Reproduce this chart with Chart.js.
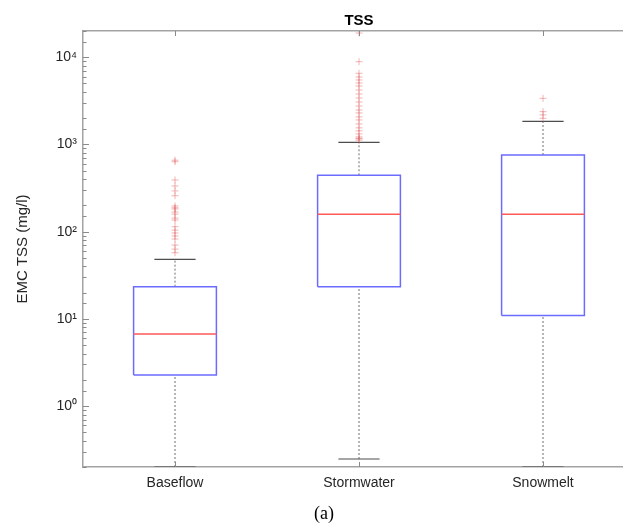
<!DOCTYPE html>
<html>
<head>
<meta charset="utf-8">
<script src="https://cdn.jsdelivr.net/npm/chart.js@4/dist/chart.umd.min.js"></script>
<style>
  html, body { margin: 0; padding: 0; background: #fff; overflow: hidden; }
  #wrap { position: relative; width: 645px; height: 527px; }
  #caption { position: absolute; left: 0; width: 648px; top: 503px; text-align: center;
             font-family: 'Liberation Serif', serif; font-size: 18px; color: #000; }
</style>
</head>
<body>
<div id="wrap">
  <canvas id="chart" width="645" height="527"></canvas>
  <div id="caption">(a)</div>
</div>
<script>
const CATEGORIES = ['Baseflow', 'Stormwater', 'Snowmelt'];
const Q1 = [2.27, 23.4, 10.9];
const MEDIAN = [6.7, 158, 158];
const Q3 = [23.4, 443, 757];
const WHISKER_LOW = [0.2, 0.247, 0.2];
const WHISKER_HIGH = [48.2, 1059, 1843];
const OUTLIERS_BASEFLOW = [660, 634, 391, 334, 293, 258, 197, 188, 182, 168, 159, 143, 136, 114, 104, 96.6, 89.2, 82.3, 70.2, 63.1, 57.3];
const OUTLIERS_STORMWATER = [18970, 8890, 6550, 5940, 5490, 5070, 4680, 4210, 3790, 3410, 3070, 2760, 2480, 2300, 2070, 1910, 1720, 1550, 1430, 1320, 1220, 1180, 1160, 1120];
const OUTLIERS_SNOWMELT = [3380, 2380, 2180, 1995];
const Y_TICKS = [1, 10, 100, 1000, 10000];

const BOX_HALF = 0.225;
const CAP_HALF = 0.112;
const GAP = { x: null, y: null };

// build segment lists for the line datasets, separated by gaps
function segments(fn) {
    const pts = [];
    CATEGORIES.forEach((c, i) => { pts.push(...fn(i + 1, i), GAP); });
    return pts;
}

const boxPts = segments((x, i) => [
    { x: x - BOX_HALF, y: Q1[i] }, { x: x + BOX_HALF, y: Q1[i] },
    { x: x + BOX_HALF, y: Q3[i] }, { x: x - BOX_HALF, y: Q3[i] },
    { x: x - BOX_HALF, y: Q1[i] }
]);
const medianPts = segments((x, i) => [{ x: x - BOX_HALF, y: MEDIAN[i] }, { x: x + BOX_HALF, y: MEDIAN[i] }]);
const upperWhisker = segments((x, i) => [{ x: x, y: Q3[i] }, { x: x, y: WHISKER_HIGH[i] }]);
const lowerWhisker = segments((x, i) => [{ x: x, y: WHISKER_LOW[i] }, { x: x, y: Q1[i] }]);
const caps = segments((x, i) => [
    { x: x - CAP_HALF, y: WHISKER_HIGH[i] }, { x: x + CAP_HALF, y: WHISKER_HIGH[i] }, GAP,
    { x: x - CAP_HALF, y: WHISKER_LOW[i] }, { x: x + CAP_HALF, y: WHISKER_LOW[i] }
]);
const outlierPts = [OUTLIERS_BASEFLOW, OUTLIERS_STORMWATER, OUTLIERS_SNOWMELT]
    .flatMap((arr, i) => arr.map(v => ({ x: i + 1, y: v })));

const SUP = { '0': '\u2070', '1': '\u00B9', '2': '\u00B2', '3': '\u00B3', '4': '\u2074', '-': '\u207B' };

const FRAME = '#a3a3a3';
const TEXT = '#262626';
const FONT = "'Liberation Sans', Arial, sans-serif";

// inward tick marks like matlab axes
const inwardTicks = {
    id: 'inwardTicks',
    afterDatasetsDraw(chart) {
        const { ctx, chartArea: a, scales: { x, y } } = chart;
        ctx.save();
        ctx.strokeStyle = '#8a8a8a';
        ctx.lineWidth = 1;
        ctx.beginPath();
        y.ticks.forEach(t => {
            const py = Math.round(y.getPixelForValue(t.value)) + 0.5;
            const major = Y_TICKS.includes(t.value);
            ctx.moveTo(a.left, py);
            ctx.lineTo(a.left + (major ? 6 : 3.5), py);
        });
        x.ticks.forEach(t => {
            const px = Math.round(x.getPixelForValue(t.value)) + 0.5;
            ctx.moveTo(px, a.top);
            ctx.lineTo(px, a.top + 5);
            ctx.moveTo(px, a.bottom);
            ctx.lineTo(px, a.bottom - 5);
        });
        ctx.stroke();
        ctx.restore();
    }
};

new Chart(document.getElementById('chart'), {
    type: 'line',
    data: {
        datasets: [
            {
                type: 'scatter',
                data: outlierPts,
                pointStyle: 'cross',
                pointRadius: 3.5,
                borderWidth: 1,
                borderColor: 'rgba(225, 90, 90, 0.45)',
                backgroundColor: 'rgba(225, 90, 90, 0.45)'
            },
            { data: caps, borderColor: '#4d4d4d', borderWidth: 1.2, pointRadius: 0 },
            { data: medianPts, borderColor: '#ff5a5a', borderWidth: 1.5, pointRadius: 0 },
            { data: boxPts, borderColor: '#6b6bff', borderWidth: 1.5, pointRadius: 0 },
            { data: upperWhisker, borderColor: '#6e6e6e', borderWidth: 1, borderDash: [2, 2], pointRadius: 0 },
            { data: lowerWhisker, borderColor: '#6e6e6e', borderWidth: 1, borderDash: [2, 2], pointRadius: 0 }
        ]
    },
    options: {
        responsive: false,
        animation: false,
        events: [],
        spanGaps: false,
        layout: { padding: { left: 0, right: 10, top: 0, bottom: 0 } },
        plugins: {
            legend: { display: false },
            tooltip: { enabled: false },
            title: {
                display: true,
                text: 'TSS',
                fullSize: false,
                color: '#000',
                font: { family: FONT, size: 15, weight: 'bold', lineHeight: 1.2 },
                padding: { top: 12, bottom: 1 }
            }
        },
        scales: {
            x: {
                type: 'linear',
                position: 'bottom',
                min: 0.5,
                max: 3.5,
                afterBuildTicks: s => { s.ticks = CATEGORIES.map((c, i) => ({ value: i + 1 })); },
                afterFit: s => { s.height = 60; },
                ticks: {
                    callback: (v) => CATEGORIES[Math.round(v) - 1],
                    color: TEXT,
                    font: { family: FONT, size: 14 },
                    padding: 8,
                    maxRotation: 0
                },
                grid: { drawOnChartArea: false, drawTicks: false },
                border: { display: true, color: FRAME, width: 1.5 }
            },
            x2: {
                type: 'linear',
                position: 'top',
                min: 0.5,
                max: 3.5,
                afterFit: s => { s.height = 0; },
                ticks: { display: false },
                grid: { drawOnChartArea: false, drawTicks: false },
                border: { display: true, color: FRAME, width: 1.5 }
            },
            y: {
                type: 'logarithmic',
                min: 0.2,
                max: 20000,
                afterFit: s => { s.width = 83; },
                ticks: {
                    autoSkip: false,
                    color: TEXT,
                    font: { family: FONT, size: 14 },
                    padding: 6,
                    callback: (v) => {
                        if (!Y_TICKS.includes(v)) return '';
                        const e = String(Math.round(Math.log10(v)));
                        return '10' + e.split('').map(ch => SUP[ch]).join('');
                    }
                },
                grid: { drawOnChartArea: false, drawTicks: false },
                border: { display: true, color: FRAME, width: 1.5 },
                title: {
                    display: true,
                    text: 'EMC TSS (mg/l)',
                    color: TEXT,
                    font: { family: FONT, size: 15, lineHeight: 1.2 },
                    padding: { top: 14 }
                }
            }
        }
    },
    plugins: [inwardTicks]
});
</script>
</body>
</html>
